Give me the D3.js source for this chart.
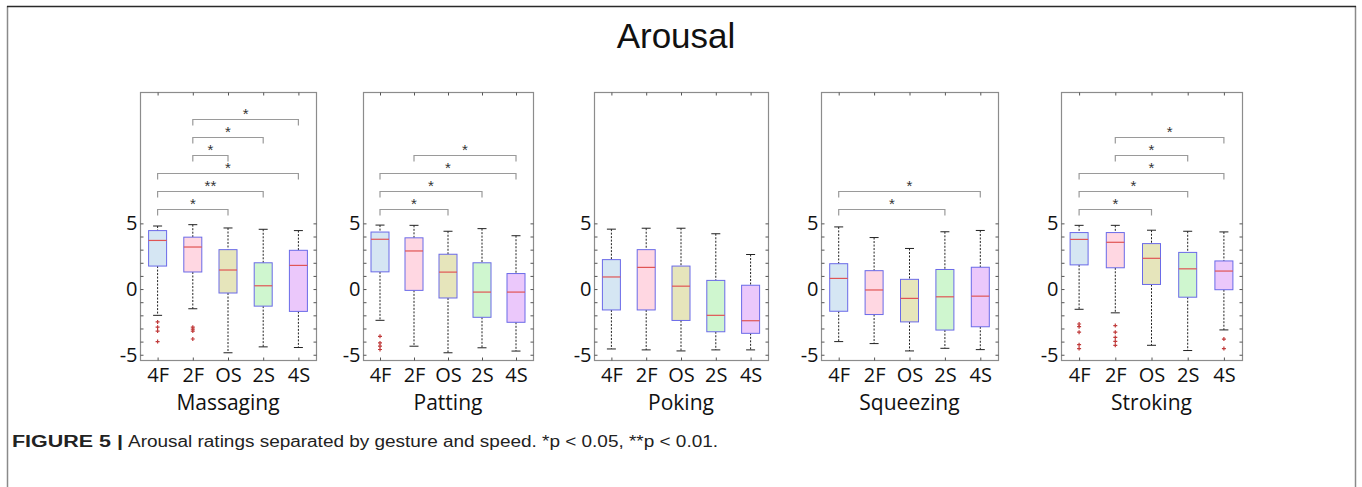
<!DOCTYPE html>
<html><head><meta charset="utf-8">
<script src="https://cdn.jsdelivr.net/npm/d3@7/dist/d3.min.js"></script>
<style>
html,body{margin:0;padding:0;background:#fff;}
svg{display:block;}
</style></head>
<body>
<script>
// ---------- DATA ----------
const categories = ["4F", "2F", "OS", "2S", "4S"];
const gestures = ["Massaging", "Patting", "Poking", "Squeezing", "Stroking"];
const yTickLabels = [-5, 0, 5];
const yMinorTicks = [-5, -4, -3, -2, -1, 0, 1, 2, 3, 4, 5];

// [lower whisker, Q1, median, Q3, upper whisker] per speed category
const massagingStats = [[-2.0, 1.75, 3.7, 4.45, 4.8], [-1.5, 1.3, 3.2, 3.95, 4.9], [-4.85, -0.3, 1.45, 3.0, 4.65], [-4.4, -1.3, 0.25, 2.0, 4.55], [-4.45, -1.7, 1.8, 2.95, 4.45]];
const pattingStats = [[-2.38, 1.31, 3.79, 4.34, 4.87], [-4.35, -0.1, 2.9, 3.9, 4.85], [-4.85, -0.68, 1.29, 2.65, 4.4], [-4.47, -2.15, -0.23, 2.0, 4.6], [-4.72, -2.53, -0.23, 1.18, 4.06]];
const pokingStats = [[-4.56, -1.59, 0.92, 2.24, 4.56], [-4.63, -1.59, 1.65, 3.0, 4.63], [-4.71, -2.39, 0.22, 1.75, 4.63], [-4.63, -3.25, -2.0, 0.66, 4.21], [-4.63, -3.37, -2.41, 0.29, 2.63]];
const squeezingStats = [[-4.0, -1.69, 0.81, 1.93, 4.73], [-4.15, -1.94, -0.07, 1.4, 3.92], [-4.71, -2.5, -0.71, 0.74, 3.09], [-4.51, -3.12, -0.59, 1.49, 4.36], [-4.61, -2.87, -0.54, 1.66, 4.46]];
const strokingStats = [[-1.54, 1.84, 3.78, 4.3, 4.85], [-1.81, 1.62, 3.56, 4.3, 4.85], [-4.28, 0.35, 2.34, 3.46, 4.48], [-4.68, -0.62, 1.54, 2.79, 4.4], [-3.11, -0.05, 1.37, 2.14, 4.35]];

const massagingOutliers = [[-2.5, -2.9, -3.2, -4.0], [-2.9, -3.05, -3.2, -3.8], [], [], []];
const pattingOutliers = [[-3.6, -4.1, -4.35, -4.6], [], [], [], []];
const pokingOutliers = [[], [], [], [], []];
const squeezingOutliers = [[], [], [], [], []];
const strokingOutliers = [[-2.66, -2.86, -3.28, -4.23, -4.53], [-2.78, -3.28, -3.68, -3.98, -4.28], [], [], [-3.81, -4.53]];

// significance brackets, listed from lowest to highest
const massagingSig = [["4F", "OS", "*"], ["4F", "2S", "**"], ["4F", "4S", "*"], ["2F", "OS", "*"], ["2F", "2S", "*"], ["2F", "4S", "*"]];
const pattingSig = [["4F", "OS", "*"], ["4F", "2S", "*"], ["4F", "4S", "*"], ["2F", "4S", "*"]];
const pokingSig = [];
const squeezingSig = [["4F", "2S", "*"], ["4F", "4S", "*"]];
const strokingSig = [["4F", "OS", "*"], ["4F", "2S", "*"], ["4F", "4S", "*"], ["2F", "2S", "*"], ["2F", "4S", "*"]];

const allStats = [massagingStats, pattingStats, pokingStats, squeezingStats, strokingStats];
const allOutliers = [massagingOutliers, pattingOutliers, pokingOutliers, squeezingOutliers, strokingOutliers];
const allSig = [massagingSig, pattingSig, pokingSig, squeezingSig, strokingSig];

const titleText = "Arousal";
const captionBold = "FIGURE 5 |";
const captionText = "Arousal ratings separated by gesture and speed. *p < 0.05, **p < 0.01.";

// ---------- LAYOUT / STYLE ----------
const W = 1362, H = 487;
const panelLeft = [140, 363, 594, 821, 1061];
const panelRight = [316, 533, 768, 998, 1242];
const plotTop = 92, plotBottom = 360;
const boxFill = ["#d5e6f3", "#ffd7e2", "#e6e5bb", "#cff6cf", "#ebc8fb"];
const boxStroke = "#6a6ae8";
const medianColor = "#e05555";
const frameColor = "#8c8c8c";
const sigBase = 6.1, sigStep = 1.37; // data units of bracket levels
const labelFont = "'Open Sans', 'Noto Sans', sans-serif";

const svg = d3.select("body").append("svg").attr("width", W).attr("height", H);

// outer figure frame
svg.append("line").attr("x1", 7.5).attr("x2", 7.5).attr("y1", 6).attr("y2", H).attr("stroke", "#8a8a8a").attr("stroke-width", 1.5);
svg.append("line").attr("x1", 1355.5).attr("x2", 1355.5).attr("y1", 6).attr("y2", H).attr("stroke", "#8a8a8a").attr("stroke-width", 1.5);
svg.append("line").attr("x1", 7).attr("x2", 1356).attr("y1", 6.5).attr("y2", 6.5).attr("stroke", "#2a2a2a").attr("stroke-width", 1.5);

// title
svg.append("text").attr("x", 676).attr("y", 48).attr("text-anchor", "middle")
  .attr("font-family", "'Liberation Sans', Arial, sans-serif").attr("font-size", 35).attr("fill", "#111").text(titleText);

gestures.forEach((g, i) => {
  const L = panelLeft[i], R = panelRight[i];
  const x = d3.scalePoint().domain(categories).range([L, R]).padding(0.5);
  const y = d3.scaleLinear().domain([-5.4, 15]).range([plotBottom, plotTop]);
  const p = svg.append("g");

  // frame
  p.append("rect").attr("x", L + 0.5).attr("y", plotTop + 0.5).attr("width", R - L).attr("height", plotBottom - plotTop)
    .attr("fill", "none").attr("stroke", frameColor).attr("stroke-width", 1.2);

  // axes
  const styleAxis = sel => {
    sel.select(".domain").remove();
    sel.selectAll(".tick line").attr("stroke", "#555");
  };
  p.append("g").attr("transform", `translate(${L + 0.5},0)`)
    .call(d3.axisLeft(y).tickValues(yMinorTicks).tickSize(-3).tickPadding(3)
      .tickFormat(d => yTickLabels.includes(d) ? String(d) : ""))
    .call(styleAxis)
    .call(s => s.selectAll("text").attr("font-family", labelFont).attr("font-size", 20).attr("fill", "#111"));
  p.append("g").attr("transform", `translate(${R + 0.5},0)`)
    .call(d3.axisRight(y).tickValues(yMinorTicks).tickSize(-3).tickFormat(""))
    .call(styleAxis);
  p.append("g").attr("transform", `translate(0,${plotTop + 0.5})`)
    .call(d3.axisTop(x).tickSize(-3).tickFormat(""))
    .call(styleAxis);
  p.append("g").attr("transform", `translate(0,${plotBottom + 0.5})`)
    .call(d3.axisBottom(x).tickSize(-3).tickPadding(7))
    .call(styleAxis)
    .call(s => s.selectAll("text").attr("font-family", labelFont).attr("font-size", 20).attr("fill", "#111"));

  // gesture label
  p.append("text").attr("x", (L + R) / 2).attr("y", 410).attr("text-anchor", "middle")
    .attr("font-family", labelFont).attr("font-size", 21).attr("fill", "#111").text(g);

  const stats = allStats[i];
  const bw = 18, cw = 9;
  categories.forEach((c, j) => {
    const [lo, q1, md, q3, hi] = stats[j];
    const cx = x(c);
    const wg = p.append("g");
    wg.append("line").attr("x1", cx).attr("x2", cx).attr("y1", y(hi)).attr("y2", y(q3))
      .attr("stroke", "#222").attr("stroke-dasharray", "2,1.5").attr("stroke-width", 1);
    wg.append("line").attr("x1", cx).attr("x2", cx).attr("y1", y(q1)).attr("y2", y(lo))
      .attr("stroke", "#222").attr("stroke-dasharray", "2,1.5").attr("stroke-width", 1);
    [hi, lo].forEach(v => wg.append("line").attr("x1", cx - cw / 2).attr("x2", cx + cw / 2)
      .attr("y1", y(v)).attr("y2", y(v)).attr("stroke", "#222").attr("stroke-width", 1));
    wg.append("rect").attr("x", cx - bw / 2).attr("y", y(q3)).attr("width", bw).attr("height", y(q1) - y(q3))
      .attr("fill", boxFill[j]).attr("stroke", boxStroke).attr("stroke-width", 1);
    wg.append("line").attr("x1", cx - bw / 2).attr("x2", cx + bw / 2).attr("y1", y(md)).attr("y2", y(md))
      .attr("stroke", medianColor).attr("stroke-width", 1.2);
    allOutliers[i][j].forEach(v => {
      const oy = y(v);
      wg.append("path").attr("d", `M${cx - 2},${oy}H${cx + 2}M${cx},${oy - 2}V${oy + 2}`)
        .attr("stroke", "#c03a3a").attr("stroke-width", 1.2);
    });
  });

  // significance brackets
  allSig[i].forEach((s, k) => {
    const x1 = x(s[0]), x2 = x(s[1]);
    const by = Math.round(y(sigBase + k * sigStep)) + 0.5;
    p.append("path").attr("d", `M${x1},${by + 6}V${by}H${x2}V${by + 6}`)
      .attr("fill", "none").attr("stroke", "#9a9a9a").attr("stroke-width", 1.2);
    p.append("text").attr("x", (x1 + x2) / 2).attr("y", by - 1).attr("text-anchor", "middle")
      .attr("font-family", "'Liberation Sans', Arial, sans-serif").attr("font-size", 15).attr("fill", "#333").text(s[2]);
  });
});

// caption
const capFont = "'Liberation Sans Narrow', 'Arial Narrow', 'Liberation Sans', sans-serif";
svg.append("text").attr("x", 12).attr("y", 447).attr("font-family", capFont)
  .attr("font-size", 16).attr("font-weight", "bold").attr("fill", "#222")
  .attr("textLength", 111).attr("lengthAdjust", "spacingAndGlyphs").text(captionBold);
svg.append("text").attr("x", 128).attr("y", 447).attr("font-family", capFont)
  .attr("font-size", 16).attr("fill", "#222")
  .attr("textLength", 590).attr("lengthAdjust", "spacingAndGlyphs").text(captionText);
</script>
</body></html>
